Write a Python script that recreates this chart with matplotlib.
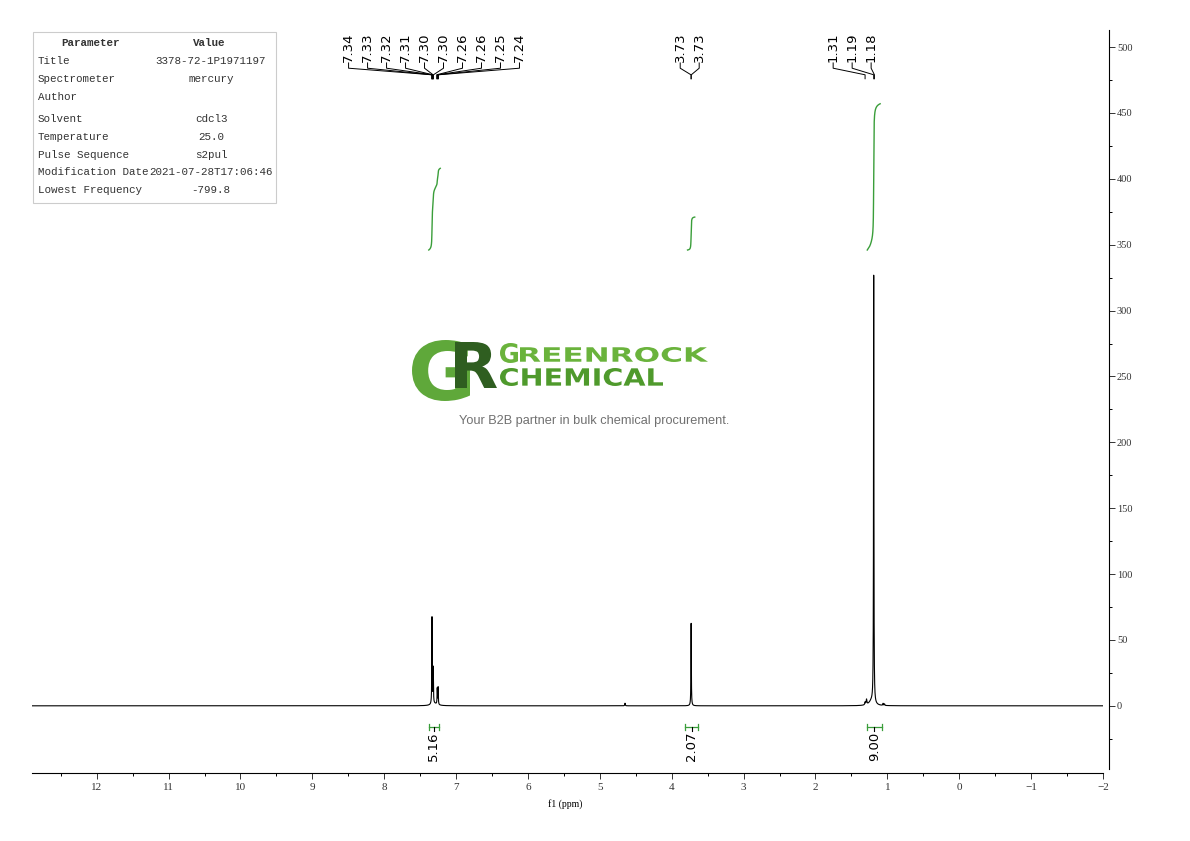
import numpy as np
import matplotlib
matplotlib.use("Agg")
import matplotlib.pyplot as plt
from matplotlib.textpath import TextPath
from matplotlib.patches import PathPatch, Rectangle
from matplotlib.font_manager import FontProperties
from matplotlib.transforms import Affine2D
from matplotlib.ticker import MultipleLocator, FixedLocator

# peaks: position (ppm), height, half width (ppm)
peak_ppm = [7.335, 7.318, 7.262, 7.250, 7.30, 4.65, 3.730, 1.31, 1.29, 1.22, 1.190, 1.06, 1.04]
peak_height = [66, 27, 12, 13, 1.5, 2, 63, 2, 4, 3.5, 326, 1.5, 1.2]
peak_width = [0.003, 0.003, 0.003, 0.003, 0.05, 0.004, 0.003, 0.005, 0.006, 0.04, 0.003, 0.004, 0.004]

# integrals: ppm range, curve start / end level, value
int_from = [7.38, 3.78, 1.28]
int_to = [7.22, 3.68, 1.10]
int_start = [346, 346, 346]
int_end = [408, 371, 457]
int_value = ["5.16", "2.07", "9.00"]
int_bracket = [(7.38, 7.24), (3.81, 3.63), (1.28, 1.08)]

# peak picking labels
pick_labels = [["7.34", "7.33", "7.32", "7.31", "7.30", "7.30", "7.26", "7.26", "7.25", "7.24"],
               ["3.73", "3.73"],
               ["1.31", "1.19", "1.18"]]
pick_ppm = [[7.34, 7.335, 7.33, 7.325, 7.32, 7.315, 7.27, 7.26, 7.255, 7.245],
            [3.732, 3.728],
            [1.31, 1.19, 1.18]]
pick_center = [7.307, 3.75, 1.49]

params = ["Title", "Spectrometer", "Author", "Solvent", "Temperature",
          "Pulse Sequence", "Modification Date", "Lowest Frequency"]
values = ["3378-72-1P1971197", "mercury", "", "cdcl3", "25.0",
          "s2pul", "2021-07-28T17:06:46", "-799.8"]
row_y = [61, 79, 97, 119, 137, 155, 172, 190]

W, H = 1190, 841
fig = plt.figure(figsize=(W / 100, H / 100), dpi=100)
ax = fig.add_axes([32 / W, 1 - 773 / H, (1103 - 32) / W, (773 - 30) / H])

x = np.linspace(12.9, -2.0, 30000)
y = np.zeros_like(x)
for p, h, w in zip(peak_ppm, peak_height, peak_width):
    y += h / (1 + ((x - p) / w) ** 2)
ax.plot(x, y, color="black", lw=0.8)

green = "#3a9e3a"
for a, b, s, e in zip(int_from, int_to, int_start, int_end):
    m = (x <= a) & (x >= b)
    c = np.cumsum(y[m])
    c = (c - c[0]) / (c[-1] - c[0])
    ax.plot(x[m], s + (e - s) * c, color=green, lw=1.0)

for (a, b), v in zip(int_bracket, int_value):
    ax.plot([a, b], [-16, -16], color=green, lw=0.9, clip_on=False)
    ax.plot([a, a], [-18.5, -13.5], color=green, lw=0.9, clip_on=False)
    ax.plot([b, b], [-18.5, -13.5], color=green, lw=0.9, clip_on=False)
    mid = (a + b) / 2
    ax.plot([mid, mid], [-16, -19], color="black", lw=0.8)
    ax.text(mid, -19.5, v, rotation=90, ha="center", va="top", fontsize=9.5,
            family="DejaVu Sans")

step = 19 / 71.93
for labs, pp, cen in zip(pick_labels, pick_ppm, pick_center):
    n = len(labs)
    for i, (lab, p) in enumerate(zip(labs, pp)):
        lx = cen + (n - 1) / 2 * step - i * step
        ax.text(lx, 489, lab, rotation=90, ha="center", va="bottom", fontsize=9.5,
                family="DejaVu Sans", clip_on=False)
        ax.plot([lx, lx, p, p], [488, 484, 479, 476], color="black", lw=0.7,
                clip_on=False)

ax.set_xlim(12.9, -2.0)
ax.set_ylim(-51, 513)
for s in ["top", "left"]:
    ax.spines[s].set_visible(False)
ax.spines["bottom"].set_linewidth(0.8)
ax.spines["right"].set_linewidth(0.8)
ax.spines["right"].set_position(("outward", 4))
ax.spines["right"].set_bounds(-48, 513)
ax.yaxis.tick_right()
ax.xaxis.set_major_locator(MultipleLocator(1))
ax.xaxis.set_minor_locator(MultipleLocator(0.5))
ax.yaxis.set_major_locator(FixedLocator(np.arange(0, 501, 50)))
ax.yaxis.set_minor_locator(FixedLocator(np.arange(-25, 501, 25)))
ax.tick_params(axis="both", which="major", length=4, width=0.7, labelsize=8,
               colors="#333333")
ax.tick_params(axis="both", which="minor", length=2.5, width=0.7)
for t in ax.get_xticklabels() + ax.get_yticklabels():
    t.set_family("Liberation Serif")
ax.tick_params(axis="y", labelsize=7.5, pad=2)
ax.set_xlabel("f1 (ppm)", fontsize=7, family="Liberation Serif", labelpad=1)
ax.xaxis.set_label_coords(0.498, -0.035)

# parameter table
fig.patches.append(Rectangle((33 / W, 1 - 203 / H), 243 / W, 171 / H,
                             transform=fig.transFigure, fill=False,
                             edgecolor="#cccccc", lw=0.8))
mono = dict(family="Liberation Mono", fontsize=7.8, color="#333333")
fig.text(91 / W, 1 - 43 / H, "Parameter", ha="center", va="center",
         weight="bold", **mono)
fig.text(209 / W, 1 - 43 / H, "Value", ha="center", va="center",
         weight="bold", **mono)
for p, v, ry in zip(params, values, row_y):
    fig.text(38 / W, 1 - ry / H, p, ha="left", va="center", **mono)
    fig.text(211 / W, 1 - ry / H, v, ha="center", va="center", **mono)


# watermark
def stretched(text, x0, y0, x1, y1, color):
    tp = TextPath((0, 0), text, size=1, prop=FontProperties(family="DejaVu Sans", weight="bold"))
    ext = tp.get_extents()
    sx = (x1 - x0) / ext.width
    sy = (y1 - y0) / ext.height
    tr = (Affine2D().translate(-ext.x0, -ext.y0).scale(sx / W, sy / H)
          .translate(x0 / W, 1 - y1 / H) + fig.transFigure)
    fig.patches.append(PathPatch(tp, transform=tr, color=color, lw=0))


stretched("G", 412, 340, 470, 401, "#5fa83a")
stretched("R", 455, 342, 497, 388, "#2f5e20")
stretched("G", 500, 343, 518, 363, "#6ab33c")
stretched("REENROCK", 520, 347, 708, 362, "#6ab33c")
stretched("CHEMICAL", 500, 368, 663, 386, "#4f9a2c")
fig.text(594.5 / W, 1 - 421 / H, "Your B2B partner in bulk chemical procurement.",
         ha="center", va="center", fontsize=9.2, color="#707070",
         family="Liberation Sans")

fig.savefig("out.png", dpi=100)
